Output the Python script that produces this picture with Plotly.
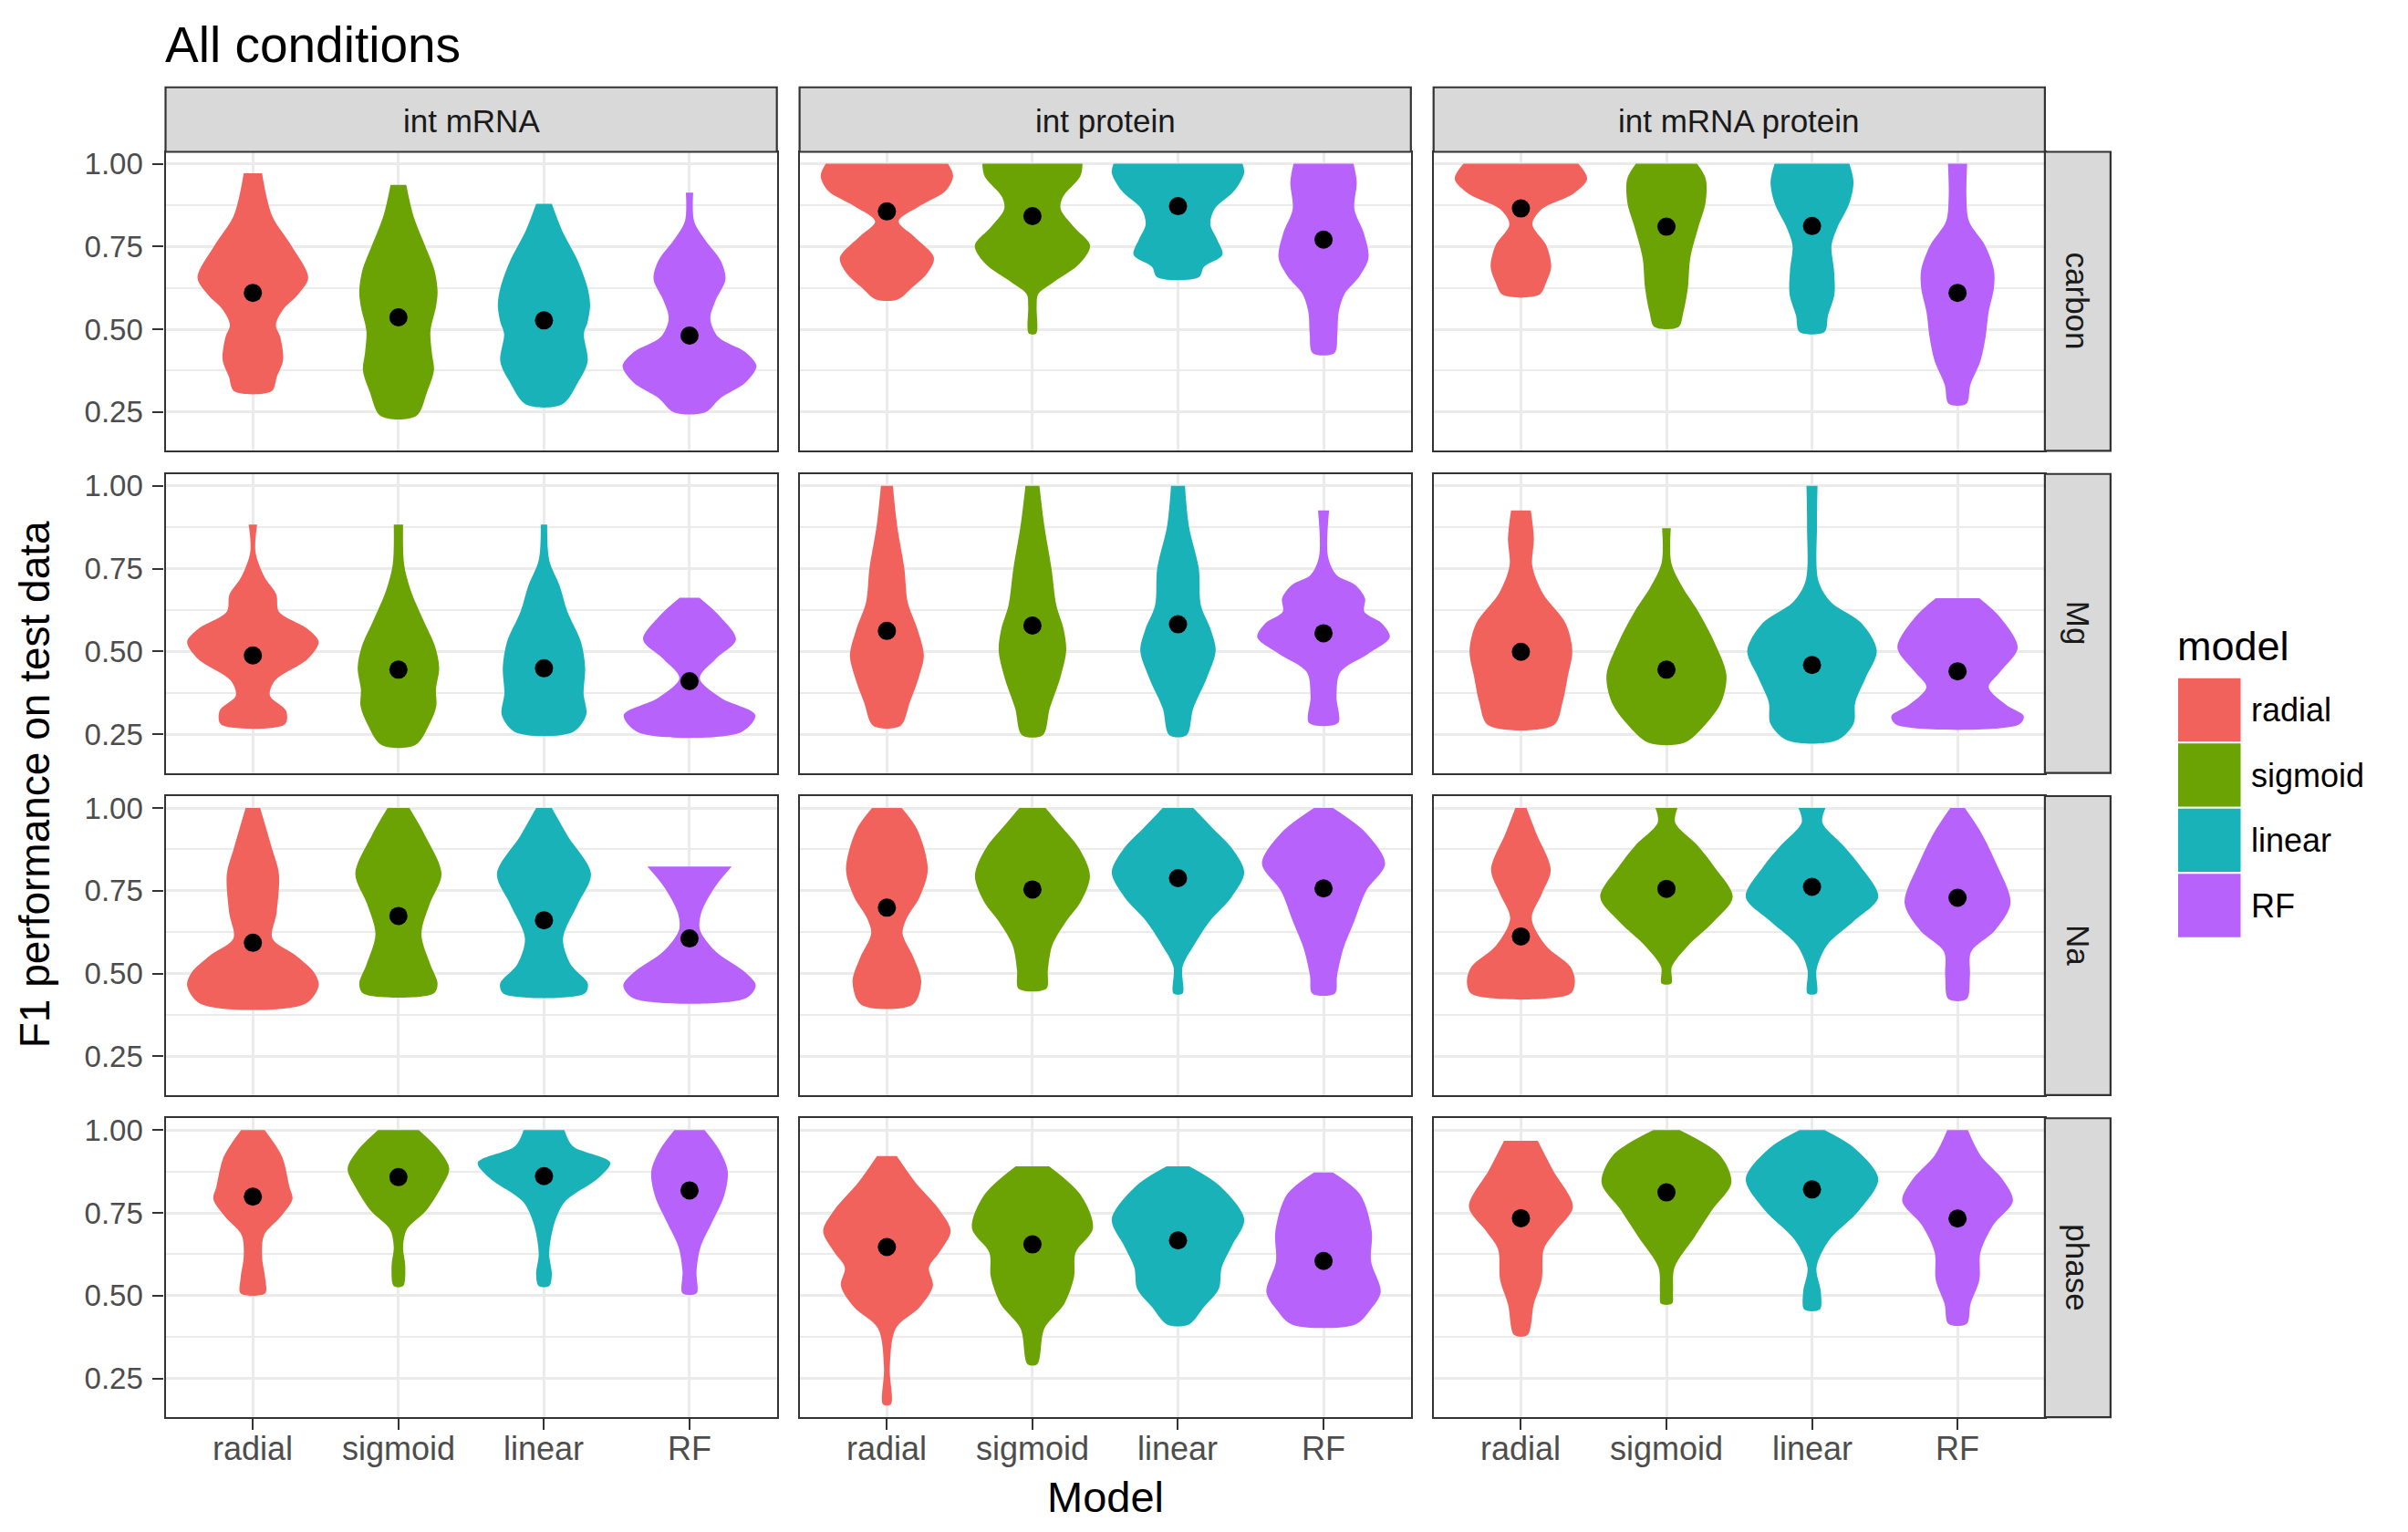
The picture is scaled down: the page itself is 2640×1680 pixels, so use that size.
import plotly.graph_objects as go

W, H = 2640, 1680

models = ["radial", "sigmoid", "linear", "RF"]
colors = ["#F2625D", "#6BA204", "#18B2B8", "#B862FC"]
col_labels = ["int mRNA", "int protein", "int mRNA protein"]
row_labels = ["carbon", "Mg", "Na", "phase"]
y_ticks = [0.25, 0.50, 0.75, 1.00]

# Violin outlines: for every model, [F1 value, half-width] from top to bottom
carbon_mrna = [
    [[0.971, 0.063], [0.844, 0.131], [0.752, 0.265], [0.656, 0.38], [0.605, 0.31], [0.559, 0.206], [0.513, 0.158], [0.477, 0.188], [0.408, 0.208], [0.357, 0.165], [0.313, 0.129]],
    [[0.936, 0.054], [0.844, 0.102], [0.752, 0.183], [0.679, 0.247], [0.614, 0.269], [0.568, 0.258], [0.495, 0.22], [0.431, 0.229], [0.376, 0.244], [0.311, 0.197], [0.238, 0.122]],
    [[0.879, 0.054], [0.798, 0.125], [0.706, 0.233], [0.624, 0.30], [0.573, 0.317], [0.522, 0.30], [0.486, 0.274], [0.403, 0.30], [0.339, 0.233], [0.273, 0.125]],
    [[0.913, 0.025], [0.826, 0.032], [0.77, 0.107], [0.706, 0.215], [0.651, 0.247], [0.587, 0.179], [0.532, 0.143], [0.477, 0.197], [0.431, 0.385], [0.389, 0.46], [0.339, 0.385], [0.293, 0.215], [0.249, 0.107]],
]
carbon_protein = [
    [[1.0, 0.42], [0.963, 0.455], [0.918, 0.404], [0.872, 0.224], [0.826, 0.081], [0.78, 0.188], [0.716, 0.323], [0.67, 0.278], [0.625, 0.17], [0.59, 0.074]],
    [[1.0, 0.344], [0.963, 0.33], [0.899, 0.208], [0.863, 0.194], [0.808, 0.287], [0.753, 0.396], [0.698, 0.323], [0.643, 0.147], [0.606, 0.039], [0.57, 0.029], [0.487, 0.025]],
    [[1.0, 0.443], [0.973, 0.455], [0.918, 0.386], [0.863, 0.251], [0.817, 0.222], [0.771, 0.269], [0.725, 0.305], [0.689, 0.179], [0.657, 0.143]],
    [[1.0, 0.206], [0.945, 0.228], [0.863, 0.212], [0.789, 0.278], [0.716, 0.309], [0.661, 0.248], [0.606, 0.143], [0.551, 0.104], [0.487, 0.095], [0.428, 0.075]],
]
carbon_both = [
    [[1.0, 0.395], [0.954, 0.455], [0.908, 0.355], [0.863, 0.143], [0.817, 0.079], [0.753, 0.175], [0.689, 0.208], [0.643, 0.175], [0.604, 0.125]],
    [[1.0, 0.21], [0.954, 0.27], [0.881, 0.268], [0.808, 0.219], [0.716, 0.164], [0.625, 0.147], [0.551, 0.116], [0.507, 0.083]],
    [[1.0, 0.257], [0.945, 0.285], [0.881, 0.257], [0.808, 0.175], [0.753, 0.134], [0.679, 0.151], [0.606, 0.154], [0.542, 0.11], [0.492, 0.086]],
    [[1.0, 0.066], [0.899, 0.061], [0.826, 0.079], [0.753, 0.189], [0.679, 0.25], [0.625, 0.25], [0.551, 0.213], [0.478, 0.193], [0.405, 0.158], [0.332, 0.088], [0.275, 0.061]],
]
mg_mrna = [
    [[0.883, 0.029], [0.80, 0.018], [0.724, 0.081], [0.672, 0.161], [0.62, 0.179], [0.568, 0.376], [0.529, 0.452], [0.477, 0.376], [0.412, 0.152], [0.367, 0.117], [0.321, 0.228], [0.28, 0.22]],
    [[0.883, 0.032], [0.763, 0.039], [0.685, 0.084], [0.594, 0.172], [0.516, 0.251], [0.451, 0.28], [0.386, 0.258], [0.334, 0.26], [0.282, 0.215], [0.217, 0.116]],
    [[0.883, 0.022], [0.776, 0.036], [0.698, 0.108], [0.62, 0.161], [0.529, 0.254], [0.451, 0.283], [0.373, 0.272], [0.308, 0.29], [0.256, 0.197]],
    [[0.662, 0.068], [0.607, 0.206], [0.536, 0.319], [0.477, 0.179], [0.419, 0.07], [0.36, 0.215], [0.308, 0.452], [0.256, 0.355]],
]
mg_protein = [
    [[1.0, 0.041], [0.878, 0.071], [0.75, 0.12], [0.649, 0.143], [0.566, 0.211], [0.488, 0.254], [0.42, 0.218], [0.346, 0.157], [0.275, 0.093]],
    [[1.0, 0.048], [0.878, 0.082], [0.75, 0.131], [0.64, 0.164], [0.566, 0.215], [0.502, 0.232], [0.42, 0.191], [0.328, 0.119], [0.247, 0.071]],
    [[1.0, 0.048], [0.878, 0.075], [0.75, 0.143], [0.64, 0.157], [0.566, 0.225], [0.502, 0.259], [0.42, 0.198], [0.328, 0.105], [0.247, 0.059]],
    [[0.926, 0.038], [0.786, 0.031], [0.731, 0.089], [0.70, 0.22], [0.66, 0.285], [0.62, 0.28], [0.585, 0.40], [0.543, 0.455], [0.493, 0.307], [0.438, 0.116], [0.364, 0.089], [0.284, 0.1]],
]
mg_both = [
    [[0.926, 0.068], [0.841, 0.089], [0.759, 0.078], [0.676, 0.15], [0.585, 0.307], [0.502, 0.353], [0.42, 0.32], [0.346, 0.286], [0.277, 0.225]],
    [[0.872, 0.03], [0.768, 0.033], [0.695, 0.109], [0.621, 0.218], [0.53, 0.327], [0.429, 0.412], [0.346, 0.376], [0.282, 0.273], [0.224, 0.123]],
    [[1.0, 0.038], [0.878, 0.034], [0.713, 0.044], [0.649, 0.13], [0.585, 0.341], [0.502, 0.445], [0.42, 0.368], [0.346, 0.297], [0.282, 0.286], [0.231, 0.168]],
    [[0.661, 0.15], [0.603, 0.293], [0.511, 0.413], [0.438, 0.293], [0.392, 0.214], [0.337, 0.338], [0.305, 0.455], [0.279, 0.423]],
]
na_mrna = [
    [[1.0, 0.05], [0.878, 0.131], [0.801, 0.179], [0.684, 0.163], [0.606, 0.134], [0.554, 0.296], [0.503, 0.421], [0.464, 0.452], [0.408, 0.358]],
    [[1.0, 0.075], [0.917, 0.183], [0.801, 0.296], [0.71, 0.215], [0.619, 0.158], [0.528, 0.219], [0.47, 0.269], [0.44, 0.242]],
    [[1.0, 0.054], [0.917, 0.161], [0.801, 0.323], [0.71, 0.233], [0.606, 0.131], [0.528, 0.183], [0.47, 0.301], [0.44, 0.28]],
    [[0.823, 0.29], [0.762, 0.176], [0.684, 0.081], [0.632, 0.072], [0.567, 0.179], [0.503, 0.385], [0.464, 0.455], [0.425, 0.385]],
]
na_protein = [
    [[1.0, 0.102], [0.933, 0.211], [0.814, 0.281], [0.731, 0.225], [0.667, 0.136], [0.621, 0.108], [0.548, 0.184], [0.475, 0.236], [0.406, 0.177]],
    [[1.0, 0.09], [0.951, 0.184], [0.878, 0.32], [0.795, 0.395], [0.713, 0.327], [0.658, 0.232], [0.585, 0.136], [0.511, 0.106], [0.454, 0.095]],
    [[1.0, 0.105], [0.942, 0.232], [0.878, 0.371], [0.805, 0.455], [0.731, 0.368], [0.658, 0.218], [0.585, 0.109], [0.52, 0.031], [0.44, 0.031]],
    [[1.0, 0.065], [0.924, 0.293], [0.832, 0.423], [0.75, 0.293], [0.658, 0.211], [0.575, 0.136], [0.493, 0.093], [0.44, 0.078]],
]
na_both = [
    [[1.0, 0.038], [0.924, 0.105], [0.814, 0.205], [0.74, 0.143], [0.667, 0.074], [0.585, 0.17], [0.52, 0.341], [0.475, 0.371], [0.438, 0.337]],
    [[1.0, 0.076], [0.956, 0.06], [0.887, 0.213], [0.823, 0.327], [0.731, 0.455], [0.658, 0.327], [0.585, 0.15], [0.52, 0.037], [0.47, 0.033]],
    [[1.0, 0.093], [0.956, 0.071], [0.887, 0.214], [0.823, 0.334], [0.731, 0.455], [0.658, 0.286], [0.585, 0.102], [0.511, 0.031], [0.44, 0.031]],
    [[1.0, 0.05], [0.924, 0.164], [0.832, 0.266], [0.713, 0.364], [0.63, 0.256], [0.566, 0.093], [0.493, 0.085], [0.423, 0.063]],
]
phase_mrna = [
    [[1.0, 0.081], [0.92, 0.2], [0.829, 0.251], [0.792, 0.272], [0.737, 0.188], [0.683, 0.077], [0.618, 0.063], [0.554, 0.084], [0.507, 0.084]],
    [[1.0, 0.14], [0.939, 0.28], [0.884, 0.349], [0.829, 0.296], [0.756, 0.188], [0.701, 0.059], [0.646, 0.032], [0.591, 0.047], [0.529, 0.032]],
    [[1.0, 0.14], [0.952, 0.197], [0.902, 0.455], [0.856, 0.376], [0.783, 0.143], [0.719, 0.072], [0.628, 0.036], [0.564, 0.054], [0.529, 0.036]],
    [[1.0, 0.104], [0.939, 0.206], [0.875, 0.263], [0.802, 0.238], [0.719, 0.152], [0.646, 0.075], [0.573, 0.048], [0.507, 0.048]],
]
phase_protein = [
    [[0.922, 0.068], [0.841, 0.198], [0.759, 0.361], [0.695, 0.438], [0.631, 0.361], [0.585, 0.289], [0.53, 0.316], [0.465, 0.225], [0.401, 0.061], [0.282, 0.02], [0.172, 0.027]],
    [[0.891, 0.115], [0.805, 0.33], [0.704, 0.416], [0.63, 0.296], [0.557, 0.286], [0.475, 0.218], [0.401, 0.082], [0.293, 0.033]],
    [[0.891, 0.078], [0.832, 0.286], [0.731, 0.455], [0.649, 0.368], [0.585, 0.3], [0.52, 0.28], [0.465, 0.177], [0.413, 0.075]],
    [[0.872, 0.065], [0.805, 0.252], [0.695, 0.331], [0.603, 0.327], [0.511, 0.393], [0.456, 0.32], [0.413, 0.218]],
]
phase_both = [
    [[0.968, 0.116], [0.878, 0.221], [0.768, 0.357], [0.695, 0.239], [0.64, 0.157], [0.548, 0.143], [0.475, 0.089], [0.381, 0.045]],
    [[1.0, 0.091], [0.924, 0.368], [0.841, 0.446], [0.759, 0.314], [0.676, 0.191], [0.585, 0.055], [0.511, 0.045], [0.476, 0.038]],
    [[1.0, 0.086], [0.945, 0.293], [0.853, 0.455], [0.759, 0.327], [0.667, 0.116], [0.585, 0.031], [0.511, 0.061], [0.458, 0.053]],
    [[1.0, 0.071], [0.924, 0.157], [0.85, 0.311], [0.786, 0.38], [0.713, 0.245], [0.63, 0.157], [0.548, 0.15], [0.475, 0.089], [0.415, 0.063]],
]

# Mean F1 per panel (columns: int mRNA, int protein, int mRNA protein; models in order)
means_carbon = [[0.610, 0.536, 0.527, 0.481], [0.856, 0.842, 0.872, 0.771], [0.865, 0.810, 0.812, 0.610]]
means_mg = [[0.488, 0.445, 0.449, 0.410], [0.562, 0.578, 0.582, 0.555], [0.499, 0.445, 0.459, 0.440]]
means_na = [[0.593, 0.674, 0.661, 0.606], [0.699, 0.754, 0.788, 0.757], [0.612, 0.756, 0.762, 0.729]]
means_phase = [[0.799, 0.858, 0.861, 0.818], [0.647, 0.655, 0.667, 0.605], [0.734, 0.812, 0.821, 0.733]]

profiles = [
    [carbon_mrna, carbon_protein, carbon_both],
    [mg_mrna, mg_protein, mg_both],
    [na_mrna, na_protein, na_both],
    [phase_mrna, phase_protein, phase_both],
]
means = [means_carbon, means_mg, means_na, means_phase]

# ---- layout geometry (pixels) ----
col_left = [181.5, 876.6, 1571.7]
col_w = 670.2
row_top = [162.0, 516.3, 870.6, 1224.9]
row_h = 328.8
strip_top = 91.0
strip_right_w = 72.0
YR = [0.133, 1.036]
FONT = "Liberation Sans, Arial, Helvetica, sans-serif"


def fx(px):
    return px / W


def fy(py):
    return 1 - py / H


fig = go.Figure()
layout = dict(
    width=W, height=H, autosize=False,
    margin=dict(l=0, r=0, t=0, b=0, pad=0),
    paper_bgcolor="white", plot_bgcolor="white",
    showlegend=False, hovermode=False,
    font=dict(family=FONT, color="#4D4D4D"),
)

annotations = []
shapes = []

for r in range(4):
    for c in range(3):
        k = r * 3 + c + 1
        xa = "x" if k == 1 else f"x{k}"
        ya = "y" if k == 1 else f"y{k}"
        for m in range(4):
            prof = profiles[r][c][m]
            ys = [p[0] for p in prof]
            hw = [p[1] for p in prof]
            cx = m + 1
            xs = [cx + w for w in hw] + [cx - w for w in reversed(hw)]
            yy = ys + list(reversed(ys))
            fig.add_trace(go.Scatter(
                x=xs, y=yy, mode="lines", fill="toself",
                fillcolor=colors[m],
                line=dict(color=colors[m], width=0, shape="spline", smoothing=0.9),
                xaxis=xa, yaxis=ya, hoverinfo="skip",
            ))
        fig.add_trace(go.Scatter(
            x=[1, 2, 3, 4], y=means[r][c], mode="markers",
            marker=dict(color="black", size=20, line=dict(width=0)),
            xaxis=xa, yaxis=ya, hoverinfo="skip",
        ))
        xkey = "xaxis" if k == 1 else f"xaxis{k}"
        ykey = "yaxis" if k == 1 else f"yaxis{k}"
        x0, x1 = col_left[c], col_left[c] + col_w
        y0, y1 = row_top[r], row_top[r] + row_h
        bottom = (r == 3)
        left = (c == 0)
        layout[xkey] = dict(
            domain=[fx(x0), fx(x1)], anchor=ya,
            range=[0.4, 4.6], tickmode="array", tickvals=[1, 2, 3, 4], ticktext=models,
            showgrid=True, gridcolor="#EBEBEB", gridwidth=3.3, zeroline=False,
            showline=True, mirror=True, linecolor="#333333", linewidth=2.2,
            ticks="outside" if bottom else "", ticklen=12, tickwidth=2.2, tickcolor="#333333",
            showticklabels=False, fixedrange=True,
        )
        layout[ykey] = dict(
            domain=[fy(y1), fy(y0)], anchor=xa, range=YR,
            tickmode="array", tickvals=y_ticks, tickformat=".2f",
            showgrid=True, gridcolor="#EBEBEB", gridwidth=3.3, zeroline=False,
            minor=dict(tickmode="array", tickvals=[0.375, 0.625, 0.875], showgrid=True,
                       gridcolor="#EBEBEB", gridwidth=1.7, ticks=""),
            showline=True, mirror=True, linecolor="#333333", linewidth=2.2,
            ticks="outside" if left else "", ticklen=12, tickwidth=2.2, tickcolor="#333333",
            showticklabels=left, tickfont=dict(family=FONT, size=33, color="#4D4D4D"),
            ticklabelstandoff=4, fixedrange=True,
        )
        # x tick labels of the bottom row, placed under each category tick
        if bottom:
            for m in range(4):
                annotations.append(dict(text=models[m], xref=xa, yref="paper",
                                        x=m + 1, y=fy(1588), xanchor="center", yanchor="middle",
                                        showarrow=False,
                                        font=dict(family=FONT, size=36, color="#4D4D4D")))

# top strips
for c in range(3):
    x0, x1 = col_left[c], col_left[c] + col_w
    shapes.append(dict(type="rect", xref="paper", yref="paper", x0=fx(x0), x1=fx(x1),
                       y0=fy(row_top[0]), y1=fy(strip_top), fillcolor="#D9D9D9",
                       line=dict(color="#333333", width=2.2), layer="above"))
    annotations.append(dict(text=col_labels[c], xref="paper", yref="paper",
                            x=fx((x0 + x1) / 2), y=fy((strip_top + row_top[0]) / 2 + 1),
                            xanchor="center", yanchor="middle", showarrow=False,
                            font=dict(family=FONT, size=35, color="#1A1A1A")))
# right strips
sx0 = col_left[2] + col_w
sx1 = sx0 + strip_right_w
for r in range(4):
    y0, y1 = row_top[r], row_top[r] + row_h
    shapes.append(dict(type="rect", xref="paper", yref="paper", x0=fx(sx0), x1=fx(sx1),
                       y0=fy(y1), y1=fy(y0), fillcolor="#D9D9D9",
                       line=dict(color="#333333", width=2.2), layer="above"))
    annotations.append(dict(text=row_labels[r], xref="paper", yref="paper",
                            x=fx((sx0 + sx1) / 2), y=fy((y0 + y1) / 2), textangle=90,
                            xanchor="center", yanchor="middle", showarrow=False,
                            font=dict(family=FONT, size=35, color="#1A1A1A")))

# title and axis titles
annotations.append(dict(text="All conditions", xref="paper", yref="paper",
                        x=fx(179), y=fy(44), xanchor="left", yanchor="middle",
                        showarrow=False, font=dict(family=FONT, size=55, color="black")))
annotations.append(dict(text="F1 performance on test data", xref="paper", yref="paper",
                        x=fx(38), y=fy((row_top[0] + row_top[3] + row_h) / 2), textangle=-90,
                        xanchor="center", yanchor="middle", showarrow=False,
                        font=dict(family=FONT, size=46, color="black")))
annotations.append(dict(text="Model", xref="paper", yref="paper",
                        x=fx((col_left[0] + col_left[2] + col_w) / 2), y=fy(1641),
                        xanchor="center", yanchor="middle", showarrow=False,
                        font=dict(family=FONT, size=47, color="black")))

# legend
annotations.append(dict(text="model", xref="paper", yref="paper", x=fx(2385), y=fy(706),
                        xanchor="left", yanchor="middle", showarrow=False,
                        font=dict(family=FONT, size=45, color="black")))
key_top = 740.0
key_h = 71.7
for m in range(4):
    t = key_top + m * key_h
    shapes.append(dict(type="rect", xref="paper", yref="paper", x0=fx(2387), x1=fx(2457.5),
                       y0=fy(t + key_h), y1=fy(t), fillcolor=colors[m],
                       line=dict(color="white", width=2)))
    annotations.append(dict(text=models[m], xref="paper", yref="paper", x=fx(2466),
                            y=fy(t + key_h / 2), xanchor="left", yanchor="middle",
                            showarrow=False, font=dict(family=FONT, size=36, color="black")))

layout["shapes"] = shapes
layout["annotations"] = annotations
fig.update_layout(**layout)
fig.write_html("out.html")
